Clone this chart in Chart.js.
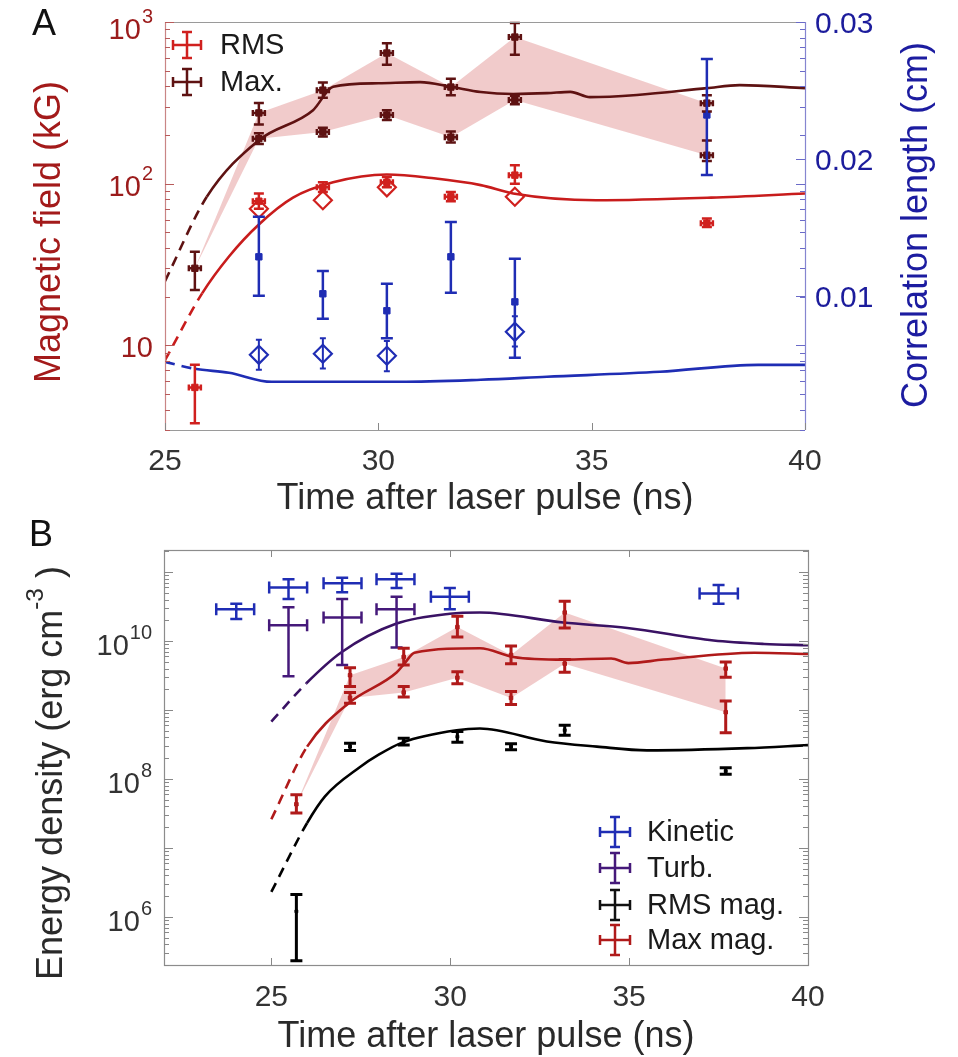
<!DOCTYPE html>
<html>
<head>
<meta charset="utf-8">
<script src="https://cdn.jsdelivr.net/npm/chart.js@4.4.1/dist/chart.umd.min.js"></script>
<style>
body { margin: 0; background: #fff; }
canvas { position: absolute; left: 0; }
#panelA { top: 0; }
#panelB { top: 515px; }
</style>
</head>
<body>
<canvas id="panelA" width="958" height="515"></canvas>
<canvas id="panelB" width="958" height="542"></canvas>
<script>
// ---- panel A data (magnetic field, kG / correlation length, cm) ----
const timesA = [25.7, 27.2, 28.7, 30.2, 31.7, 33.2, 37.7];
const rmsField = [5.5, 78, 95, 102, 83, 113, 57];
const rmsFieldLo = [3.3, 70, 89, 95, 78, 100, 54];
const rmsFieldHi = [7.6, 87, 102, 110, 89, 130, 61];
const maxField = [30, 274, 379, 643, 396, 807, 315];
const maxFieldLo = [22, 232, 340, 545, 352, 628, 280];
const maxFieldHi = [38, 316, 422, 740, 446, 985, 352];
const timesA2 = [27.2, 28.7, 30.2, 31.7, 33.2, 37.7];
const maxField2 = [190, 209, 266, 194, 329, 150];
const maxField2Lo = [176, 196, 248, 180, 310, 138];
const maxField2Hi = [205, 222, 285, 210, 350, 185];
const diamondTimes = [27.2, 28.7, 30.2, 33.2];
const rmsDiamond = [70, 79, 95, 83];
const corrTimes = [27.2, 28.7, 30.2, 31.7, 33.2, 37.7];
const corrLen = [0.01285, 0.01015, 0.00891, 0.01285, 0.00956, 0.02321];
const corrLenLo = [0.0100, 0.00832, 0.0069, 0.01022, 0.00547, 0.01883];
const corrLenHi = [0.01577, 0.01182, 0.01088, 0.0154, 0.0127, 0.0273];
const corrDiamond = [0.00569, 0.00577, 0.00562, 0.00737];
const corrDiamondLo = [0.0046, 0.0047, 0.0045, 0.0063];
const corrDiamondHi = [0.0068, 0.0069, 0.0067, 0.0085];

const simTimeMax = [25, 25.98, 27.2, 28.47, 28.94, 30.0, 30.98, 31.7, 32.4, 33.16, 33.95, 34.5, 34.96, 36.06, 37.7, 38.47, 40];
const simMaxField = [25, 83, 186, 285, 398, 418, 425, 398, 369, 359, 363, 370, 343, 354, 390, 407, 390];
const simTimeRms = [25, 25.87, 26.5, 27.2, 28.0, 28.94, 30.2, 31.3, 32.4, 33.16, 35.1, 37.8, 40];
const simRmsField = [8.1, 21, 35.5, 56, 82, 102, 114, 108, 98, 87, 79, 82, 87];
const simTimeCorr = [25, 25.7, 26.5, 27.5, 30.5, 32.4, 33.95, 36.6, 38.9, 40];
const simCorr = [0.00518, 0.00467, 0.00438, 0.00372, 0.00372, 0.00387, 0.00409, 0.00445, 0.00496, 0.00496];

// ---- panel B data (energy density, erg cm^-3) ----
const kinTime = [24.02, 25.48, 26.98, 28.5, 29.99, 37.5];
const kinTimeLo = [23.46, 24.94, 26.46, 27.94, 29.46, 36.97];
const kinTimeHi = [24.52, 26.0, 27.52, 29.0, 30.52, 38.04];
const kinetic = [2.9e10, 6.0e10, 6.9e10, 7.9e10, 4.4e10, 4.9e10];
const kineticLo = [2.1e10, 4.1e10, 5.1e10, 5.9e10, 2.9e10, 3.5e10];
const kineticHi = [3.5e10, 7.9e10, 8.3e10, 9.5e10, 5.9e10, 6.5e10];
const turbTime = [25.48, 26.98, 28.5];
const turbTimeLo = [24.94, 26.46, 27.94];
const turbTimeHi = [26.0, 27.52, 29.0];
const turb = [1.7e10, 2.2e10, 2.9e10];
const turbLo = [3.1e9, 4.5e9, 8.1e9];
const turbHi = [3.1e10, 4.1e10, 4.4e10];
const timesB = [25.7, 27.2, 28.7, 30.2, 31.7, 33.2, 37.7];
const maxMag = [4.3e7, 3.2e9, 5.9e9, 1.6e10, 6.3e9, 2.6e10, 4.0e9];
const maxMagLo = [3.2e7, 2.2e9, 4.5e9, 1.15e10, 4.7e9, 1.55e10, 3.0e9];
const maxMagHi = [5.9e7, 4.1e9, 7.9e9, 2.3e10, 8.5e9, 3.8e10, 5.0e9];
const timesB2 = [27.2, 28.7, 30.2, 31.7, 33.2, 37.7];
const maxMag2 = [1.5e9, 1.8e9, 2.95e9, 1.5e9, 4.7e9, 9.3e8];
const maxMag2Lo = [1.26e9, 1.55e9, 2.4e9, 1.2e9, 3.55e9, 4.7e8];
const maxMag2Hi = [1.8e9, 2.2e9, 3.6e9, 1.86e9, 5.4e9, 1.35e9];
const rmsMag = [1.2e6, 2.95e8, 3.5e8, 4.1e8, 2.95e8, 5.1e8, 1.3e8];
const rmsMagLo = [2.3e5, 2.6e8, 3.1e8, 3.4e8, 2.65e8, 4.3e8, 1.17e8];
const rmsMagHi = [2.1e6, 3.3e8, 3.9e8, 4.9e8, 3.25e8, 6.0e8, 1.45e8];

const simTimeTurb = [25, 25.98, 26.96, 28.5, 29.99, 30.83, 33.16, 34.95, 37.36, 38.77, 40];
const simTurb = [6.8e8, 2.45e9, 6.9e9, 1.8e10, 2.5e10, 2.6e10, 1.86e10, 1.55e10, 1.02e10, 9.1e9, 8.7e9];
const simTimeMaxMag = [25, 26.0, 27.16, 28.5, 28.73, 29.0, 30.83, 31.76, 33.2, 34.5, 34.98, 35.96, 38.5, 40];
const simMaxMag = [2.6e7, 2.95e8, 1.26e9, 3.5e9, 4.8e9, 6.8e9, 7.9e9, 5.9e9, 5.4e9, 5.6e9, 4.8e9, 5.4e9, 6.8e9, 6.5e9];
const simTimeRmsMag = [25, 26.0, 26.5, 27.47, 28.0, 28.67, 30.18, 30.83, 32.7, 34.1, 35.5, 38.3, 40];
const simRmsMag = [2.3e6, 2.3e7, 5.6e7, 1.48e8, 2.25e8, 3.4e8, 5.1e8, 5.4e8, 3.5e8, 2.95e8, 2.6e8, 2.8e8, 3.1e8];

// ticks
const xTicks = [25, 30, 35, 40];
const fieldTicks = [[10, ''], [100, '2'], [1000, '3']];
const corrTicks = [0.01, 0.02, 0.03];
const energyTicks = [[1e6, '6'], [1e8, '8'], [1e10, '10']];

const FONT = '"Liberation Sans", Arial, sans-serif';
const RED = '#d0201e', DARK = '#5e1212', BLUE = '#1f2db4', PURPLE = '#45197a', MAXRED = '#b01a1a';
const BAND = 'rgba(222, 130, 130, 0.42)';

function xy(times, vals) {
    return times.map((t, i) => ({ x: t, y: vals[i] }));
}

function simLine(times, vals, color, dashEnd, axis) {
    return {
        data: xy(times, vals), borderColor: color, borderWidth: 2.6, pointRadius: 0,
        cubicInterpolationMode: 'monotone', fill: false, yAxisID: axis || 'y', order: 5,
        segment: { borderDash: c => (c.p1.parsed.x <= dashEnd + 1e-6 ? [10, 7] : undefined) }
    };
}

function pts(times, vals, lo, hi, color, extra) {
    return Object.assign({
        data: xy(times, vals), showLine: false, borderColor: color, backgroundColor: color,
        pointStyle: 'rect', pointRadius: 4.5, pointBorderWidth: 1, order: 1,
        errLo: lo, errHi: hi, errColor: color, errWidth: 2.5, cap: 5
    }, extra || {});
}

function band(times, hi, lo) {
    return [
        { data: xy(times, hi), borderWidth: 0, pointRadius: 0, fill: false, order: 10 },
        { data: xy(times, lo), borderWidth: 0, pointRadius: 0, fill: '-1', backgroundColor: BAND, order: 10 }
    ];
}

// error bars drawn through the chart scales
const errorBars = {
    id: 'errorBars',
    afterDatasetsDraw(chart) {
        const ctx = chart.ctx;
        const xs = chart.scales.x;
        chart.data.datasets.forEach(ds => {
            if (!ds.errLo) return;
            const ys = chart.scales[ds.yAxisID || 'y'];
            ctx.save();
            ctx.strokeStyle = ds.errColor;
            ctx.lineWidth = ds.errWidth;
            ctx.beginPath();
            ds.data.forEach((p, j) => {
                const x = xs.getPixelForValue(p.x);
                const y = ys.getPixelForValue(p.y);
                const y1 = ys.getPixelForValue(ds.errLo[j]);
                const y2 = ys.getPixelForValue(ds.errHi[j]);
                const c = ds.cap;
                ctx.moveTo(x, y1); ctx.lineTo(x, y2);
                ctx.moveTo(x - c, y1); ctx.lineTo(x + c, y1);
                ctx.moveTo(x - c, y2); ctx.lineTo(x + c, y2);
                if (ds.tLo) {
                    const xa = xs.getPixelForValue(ds.tLo[j]), xb = xs.getPixelForValue(ds.tHi[j]);
                    ctx.moveTo(xa, y); ctx.lineTo(xb, y);
                    ctx.moveTo(xa, y - c); ctx.lineTo(xa, y + c);
                    ctx.moveTo(xb, y - c); ctx.lineTo(xb, y + c);
                } else if (ds.hBar) {
                    const h = ds.hBar;
                    ctx.moveTo(x - h, y); ctx.lineTo(x + h, y);
                    ctx.moveTo(x - h, y - 3); ctx.lineTo(x - h, y + 3);
                    ctx.moveTo(x + h, y - 3); ctx.lineTo(x + h, y + 3);
                }
            });
            ctx.stroke();
            ctx.restore();
        });
    }
};

function logTicks(ctx, ys, x, dir, color) {
    ctx.strokeStyle = color;
    ctx.lineWidth = 1;
    ctx.beginPath();
    const d0 = Math.floor(Math.log10(ys.min)), d1 = Math.ceil(Math.log10(ys.max));
    for (let d = d0; d <= d1; d++) {
        for (let m = 1; m < 10; m++) {
            const v = m * Math.pow(10, d);
            if (v < ys.min || v > ys.max) continue;
            const y = Math.round(ys.getPixelForValue(v)) + 0.5;
            const len = m === 1 ? 9 : 5;
            ctx.moveTo(x, y); ctx.lineTo(x + dir * len, y);
        }
    }
    ctx.stroke();
}

function powLabel(ctx, base, exp, xr, y, color, size, esize) {
    ctx.fillStyle = color;
    ctx.textBaseline = 'middle';
    ctx.textAlign = 'left';
    ctx.font = size + 'px ' + FONT;
    const wb = ctx.measureText(base).width;
    ctx.font = esize + 'px ' + FONT;
    const we = exp ? ctx.measureText(exp).width + 1 : 0;
    const x0 = xr - wb - we;
    ctx.font = size + 'px ' + FONT;
    ctx.fillText(base, x0, y);
    if (exp) {
        ctx.font = esize + 'px ' + FONT;
        ctx.fillText(exp, x0 + wb + 1, y - size * 0.46);
    }
}

function vText(ctx, parts, cx, cy, color, size) {
    // parts: [text, isSuperscript]
    ctx.save();
    ctx.translate(cx, cy);
    ctx.rotate(-Math.PI / 2);
    ctx.fillStyle = color;
    ctx.textBaseline = 'middle';
    ctx.textAlign = 'left';
    let w = 0;
    parts.forEach(p => {
        ctx.font = (p[1] ? size * 0.68 : size) + 'px ' + FONT;
        w += ctx.measureText(p[0]).width;
    });
    let x = -w / 2;
    parts.forEach(p => {
        ctx.font = (p[1] ? size * 0.68 : size) + 'px ' + FONT;
        ctx.fillText(p[0], x, p[1] ? -size * 0.45 : 0);
        x += ctx.measureText(p[0]).width;
    });
    ctx.restore();
}

function crossSymbol(ctx, x, y, hw, hh, color) {
    ctx.strokeStyle = color;
    ctx.lineWidth = 2.5;
    ctx.beginPath();
    ctx.moveTo(x - hw, y); ctx.lineTo(x + hw, y);
    ctx.moveTo(x, y - hh); ctx.lineTo(x, y + hh);
    ctx.moveTo(x - hw, y - 5); ctx.lineTo(x - hw, y + 5);
    ctx.moveTo(x + hw, y - 5); ctx.lineTo(x + hw, y + 5);
    ctx.moveTo(x - 5, y - hh); ctx.lineTo(x + 5, y - hh);
    ctx.moveTo(x - 5, y + hh); ctx.lineTo(x + 5, y + hh);
    ctx.stroke();
}

function text(ctx, s, x, y, color, size, align) {
    ctx.fillStyle = color;
    ctx.font = size + 'px ' + FONT;
    ctx.textAlign = align || 'center';
    ctx.textBaseline = 'middle';
    ctx.fillText(s, x, y);
}

const decorA = {
    id: 'decorA',
    afterDraw(chart) {
        const ctx = chart.ctx, a = chart.chartArea;
        const xs = chart.scales.x, ys = chart.scales.y, y2 = chart.scales.y2;
        ctx.save();
        // frame
        ctx.lineWidth = 1.2;
        ctx.strokeStyle = '#9a9a9a';
        ctx.beginPath();
        ctx.moveTo(a.left, a.top + 0.5); ctx.lineTo(a.right, a.top + 0.5);
        ctx.moveTo(a.left, a.bottom + 0.5); ctx.lineTo(a.right, a.bottom + 0.5);
        ctx.stroke();
        ctx.strokeStyle = '#c98585';
        ctx.beginPath(); ctx.moveTo(a.left + 0.5, a.top); ctx.lineTo(a.left + 0.5, a.bottom); ctx.stroke();
        ctx.strokeStyle = '#8585d0';
        ctx.beginPath(); ctx.moveTo(a.right + 0.5, a.top); ctx.lineTo(a.right + 0.5, a.bottom); ctx.stroke();
        logTicks(ctx, ys, a.left, 1, '#b85a5a');
        logTicks(ctx, ys, a.right, -1, '#6a6ac8');
        ctx.strokeStyle = '#6a6ac8';
        ctx.beginPath();
        corrTicks.forEach(v => {
            const y = Math.round(y2.getPixelForValue(v)) + 0.5;
            ctx.moveTo(a.right, y); ctx.lineTo(a.right - 9, y);
        });
        ctx.stroke();
        ctx.strokeStyle = '#888';
        ctx.beginPath();
        xTicks.forEach(v => {
            const x = Math.round(xs.getPixelForValue(v)) + 0.5;
            ctx.moveTo(x, a.bottom); ctx.lineTo(x, a.bottom - 7);
        });
        ctx.stroke();

        // tick labels
        xTicks.forEach(v => text(ctx, String(v), xs.getPixelForValue(v), 462, '#333', 30));
        fieldTicks.forEach(t => {
            const y = ys.getPixelForValue(t[0]);
            powLabel(ctx, '10', t[1], 153, Math.max(y + 4, 31), '#9b1b1b', 29, 20);
        });
        corrTicks.forEach(v => text(ctx, v.toFixed(2), 815, y2.getPixelForValue(v) + 3, '#1c1c9c', 30, 'left'));

        // titles
        text(ctx, 'Time after laser pulse (ns)', (a.left + a.right) / 2, 499, '#2a2a2a', 36);
        vText(ctx, [['Magnetic field (kG)', false]], 50, 232, '#a31a1a', 36);
        vText(ctx, [['Correlation length (cm)', false]], 917, 225, '#1c1ca0', 36);
        text(ctx, 'A', 32, 25, '#111', 36, 'left');

        // legend
        crossSymbol(ctx, 187, 45, 14, 13, RED);
        crossSymbol(ctx, 187, 82, 14, 13, DARK);
        text(ctx, 'RMS', 220, 46, '#1a1a1a', 29, 'left');
        text(ctx, 'Max.', 220, 83, '#1a1a1a', 29, 'left');
        ctx.restore();
    }
};

const decorB = {
    id: 'decorB',
    afterDraw(chart) {
        const ctx = chart.ctx, a = chart.chartArea;
        const xs = chart.scales.x, ys = chart.scales.y;
        ctx.save();
        ctx.lineWidth = 1.2;
        ctx.strokeStyle = '#8c8c8c';
        ctx.strokeRect(a.left + 0.5, a.top + 0.5, a.right - a.left, a.bottom - a.top);
        logTicks(ctx, ys, a.left, 1, '#888');
        logTicks(ctx, ys, a.right, -1, '#888');
        ctx.strokeStyle = '#888';
        ctx.beginPath();
        xTicks.forEach(v => {
            const x = Math.round(xs.getPixelForValue(v)) + 0.5;
            ctx.moveTo(x, a.bottom); ctx.lineTo(x, a.bottom - 7);
            ctx.moveTo(x, a.top); ctx.lineTo(x, a.top + 7);
        });
        ctx.stroke();

        xTicks.forEach(v => text(ctx, String(v), xs.getPixelForValue(v), 483, '#333', 30));
        energyTicks.forEach(t => powLabel(ctx, '10', t[1], 152, ys.getPixelForValue(t[0]) + 6, '#333', 29, 20));

        text(ctx, 'Time after laser pulse (ns)', (a.left + a.right) / 2, 522, '#2a2a2a', 36);
        vText(ctx, [['Energy density (erg cm', false], ['-3', true], [' )', false]], 52, 258, '#2a2a2a', 36);
        text(ctx, 'B', 29, 21, '#111', 36, 'left');

        const leg = [['Kinetic', BLUE], ['Turb.', PURPLE], ['RMS mag.', '#111'], ['Max mag.', MAXRED]];
        const ly = [317, 353, 390, 425];
        leg.forEach((l, i) => {
            crossSymbol(ctx, 615, ly[i], 15, 15, l[1]);
            text(ctx, l[0], 647, ly[i] + 1, '#1a1a1a', 29, 'left');
        });
        ctx.restore();
    }
};

const baseOpts = {
    responsive: false,
    animation: false,
    devicePixelRatio: 1,
    plugins: { legend: { display: false }, tooltip: { enabled: false } },
    elements: { line: { tension: 0 } }
};

function hiddenAxis(extra) {
    return Object.assign({
        ticks: { display: false }, grid: { display: false }, border: { display: false }
    }, extra);
}

new Chart(document.getElementById('panelA'), {
    type: 'line',
    data: {
        datasets: [
            ...band(timesA, maxField, [maxField[0]].concat(maxField2)),
            simLine(simTimeMax, simMaxField, DARK, 25.98),
            simLine(simTimeRms, simRmsField, '#c81c1c', 25.87),
            simLine(simTimeCorr, simCorr, BLUE, 25.7, 'y2'),
            pts(timesA, maxField, maxFieldLo, maxFieldHi, DARK, { hBar: 6 }),
            pts(timesA2, maxField2, maxField2Lo, maxField2Hi, DARK, { hBar: 6 }),
            pts(timesA, rmsField, rmsFieldLo, rmsFieldHi, RED, { hBar: 6 }),
            pts(corrTimes, corrLen, corrLenLo, corrLenHi, BLUE, { yAxisID: 'y2', cap: 6 }),
            pts(diamondTimes, rmsDiamond, null, null, RED, {
                pointStyle: 'rectRot', pointRadius: 9, pointBorderWidth: 2.2, backgroundColor: 'rgba(0,0,0,0)'
            }),
            pts(diamondTimes, corrDiamond, corrDiamondLo, corrDiamondHi, BLUE, {
                yAxisID: 'y2', pointStyle: 'rectRot', pointRadius: 9, pointBorderWidth: 2.2,
                backgroundColor: 'rgba(0,0,0,0)', cap: 3, errWidth: 2
            })
        ]
    },
    options: Object.assign({}, baseOpts, {
        layout: { padding: { top: 22, left: 0, right: 0, bottom: 0 } },
        scales: {
            x: hiddenAxis({ type: 'linear', min: 25, max: 40, afterFit: s => { s.height = 85; } }),
            y: hiddenAxis({ type: 'logarithmic', position: 'left', min: 3, max: 1000, afterFit: s => { s.width = 165; } }),
            y2: hiddenAxis({ type: 'linear', position: 'right', min: 0.0002, max: 0.03, afterFit: s => { s.width = 153; } })
        }
    }),
    plugins: [errorBars, decorA]
});

new Chart(document.getElementById('panelB'), {
    type: 'line',
    data: {
        datasets: [
            ...band(timesB, maxMag, [maxMag[0]].concat(maxMag2)),
            simLine(simTimeTurb, simTurb, '#3a1264', 25.98),
            simLine(simTimeMaxMag, simMaxMag, MAXRED, 26.0),
            simLine(simTimeRmsMag, simRmsMag, '#000', 26.0),
            pts(kinTime, kinetic, kineticLo, kineticHi, BLUE, { pointRadius: 0, tLo: kinTimeLo, tHi: kinTimeHi, cap: 6 }),
            pts(turbTime, turb, turbLo, turbHi, PURPLE, { pointRadius: 0, tLo: turbTimeLo, tHi: turbTimeHi, cap: 6 }),
            pts(timesB, maxMag, maxMagLo, maxMagHi, MAXRED, { pointRadius: 2.5, errWidth: 3, cap: 6 }),
            pts(timesB2, maxMag2, maxMag2Lo, maxMag2Hi, MAXRED, { pointRadius: 2.5, errWidth: 3, cap: 6 }),
            pts(timesB, rmsMag, rmsMagLo, rmsMagHi, '#000', { pointRadius: 2, errWidth: 3, cap: 6 })
        ]
    },
    options: Object.assign({}, baseOpts, {
        layout: { padding: { top: 35, left: 0, right: 150, bottom: 0 } },
        scales: {
            x: hiddenAxis({ type: 'linear', min: 22, max: 40, afterFit: s => { s.height = 92; } }),
            y: hiddenAxis({ type: 'logarithmic', position: 'left', min: 2e5, max: 2.1e11, afterFit: s => { s.width = 164; } })
        }
    }),
    plugins: [errorBars, decorB]
});
</script>
</body>
</html>
